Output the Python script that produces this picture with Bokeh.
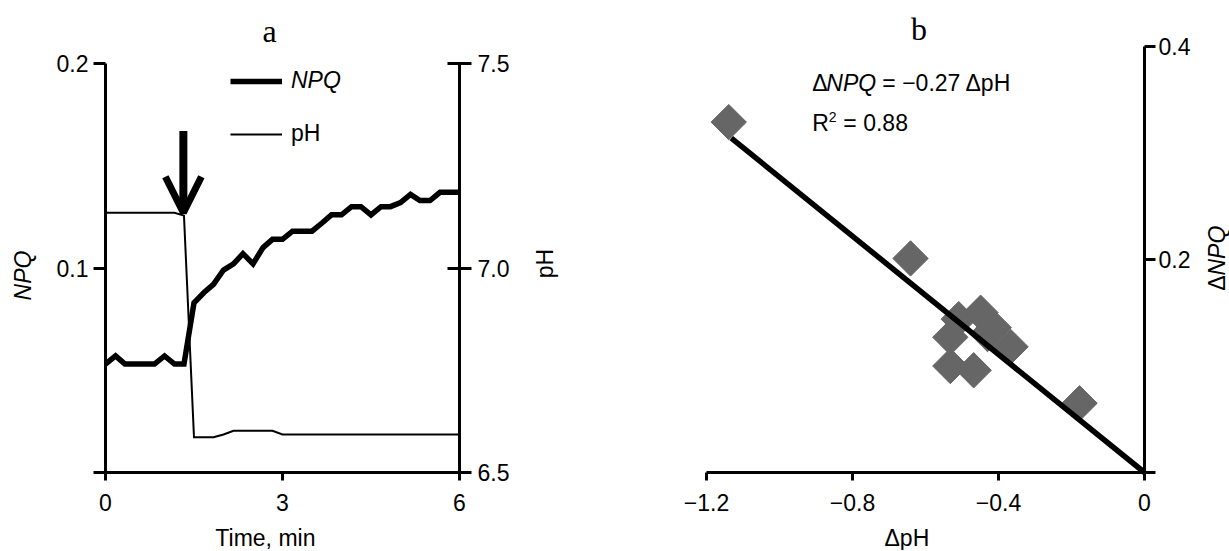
import math
from bokeh.plotting import figure
from bokeh.models import (Range1d, LinearAxis, FixedTicker, Label, Legend,
                          LegendItem, Arrow, OpenHead)
from bokeh.layouts import row
from bokeh.embed import file_html
from bokeh.resources import INLINE

# ---------------- data (panel a) ----------------
time_min = [0.0, 0.17, 0.33, 0.5, 0.67, 0.83, 1.0, 1.17, 1.33, 1.5, 1.67, 1.83,
            2.0, 2.17, 2.33, 2.5, 2.67, 2.83, 3.0, 3.17, 3.33, 3.5, 3.67, 3.83,
            4.0, 4.17, 4.33, 4.5, 4.67, 4.83, 5.0, 5.17, 5.33, 5.5, 5.67, 5.83, 6.0]
npq = [0.053, 0.057, 0.053, 0.053, 0.053, 0.053, 0.057, 0.053, 0.053, 0.083,
       0.088, 0.092, 0.099, 0.102, 0.107, 0.102, 0.110, 0.114, 0.114, 0.118,
       0.118, 0.118, 0.122, 0.126, 0.126, 0.130, 0.130, 0.126, 0.130, 0.130,
       0.132, 0.136, 0.133, 0.133, 0.137, 0.137, 0.137]
ph = [7.135, 7.135, 7.135, 7.135, 7.135, 7.135, 7.135, 7.135, 7.128, 6.586,
      6.586, 6.586, 6.593, 6.602, 6.602, 6.602, 6.602, 6.602, 6.593, 6.593,
      6.593, 6.593, 6.593, 6.593, 6.593, 6.593, 6.593, 6.593, 6.593, 6.593,
      6.593, 6.593, 6.593, 6.593, 6.593, 6.593, 6.593]
addition_time = 1.32
time_ticks = [0, 3, 6]
npq_ticks = [0, 0.1, 0.2]
ph_ticks = [6.5, 7.0, 7.5]

# ---------------- data (panel b) ----------------
d_ph = [-1.139, -0.641, -0.449, -0.509, -0.532, -0.532, -0.413, -0.367,
        -0.468, -0.430, -0.178]
d_npq = [0.329, 0.201, 0.150, 0.144, 0.127, 0.100, 0.136, 0.118,
         0.096, 0.130, 0.065]
fit_x = [-1.132, 0.0]
fit_y = [0.314, 0.0]
dph_ticks = [-1.2, -0.8, -0.4, 0]
dnpq_ticks = [0, 0.2, 0.4]

FONT = "Liberation Sans"
SERIF = "Liberation Serif"
FS = "23px"
H = 550
AXIS_Y = 472  # pixel row of the x axes


def extended_range(lo, hi, px_lo, px_hi, px_min, px_max):
    """Range whose [lo, hi] sits at pixels [px_lo, px_hi] of a frame [px_min, px_max]."""
    s = (hi - lo) / (px_hi - px_lo)
    return lo - (px_lo - px_min) * s, hi + (px_max - px_hi) * s


def style_axis(ax, tin, tout, standoff):
    ax.axis_line_width = 3
    ax.axis_line_color = "black"
    ax.major_tick_line_width = 3
    ax.major_tick_line_color = "black"
    ax.major_tick_in = tin
    ax.major_tick_out = tout
    ax.minor_tick_line_color = None
    ax.major_label_text_font = FONT
    ax.major_label_text_font_size = FS
    ax.major_label_text_color = "black"
    ax.major_label_standoff = standoff


def text_label(fig, x, page_y, text, xo=0, size=FS, font=FONT, style="normal",
               align="left", angle=0.0):
    """Text centred vertically on pixel row page_y (anchored to y=0 of the figure)."""
    fig.add_layout(Label(x=x, y=0, x_offset=xo, y_offset=AXIS_Y - page_y, text=text,
                         text_font=font, text_font_size=size, text_font_style=style,
                         text_align=align, text_baseline="middle", angle=angle,
                         text_color="black"))


def base_fig(width, xr, yr):
    p = figure(width=width, height=H, x_range=Range1d(*xr), y_range=Range1d(*yr),
               output_backend="svg", toolbar_location=None,
               x_axis_location=None, y_axis_location=None,
               min_border=0, min_border_left=0, min_border_right=0,
               min_border_top=0, min_border_bottom=0)
    p.xgrid.visible = False
    p.ygrid.visible = False
    p.outline_line_color = None
    return p


# ================= panel a =================
WA = 600
xr_a = extended_range(0, 6, 105, 459, 0, WA)
yr_a = extended_range(0, 0.2, H - AXIS_Y, H - 63, 0, H)
ph_r = extended_range(6.5, 7.5, H - AXIS_Y, H - 63, 0, H)
pa = base_fig(WA, xr_a, yr_a)
pa.extra_y_ranges = {"ph": Range1d(*ph_r)}

xa = LinearAxis(ticker=FixedTicker(ticks=time_ticks), fixed_location=0, bounds=(0, 6))
style_axis(xa, 0, 8, 13)
pa.add_layout(xa, "below")
ya = LinearAxis(ticker=FixedTicker(ticks=npq_ticks), fixed_location=0, bounds=(0, 0.2))
ya.major_label_overrides = {0: "", 0.1: "0.1", 0.2: "0.2"}
style_axis(ya, 0, 12, 5)
pa.add_layout(ya, "left")
ra = LinearAxis(y_range_name="ph", ticker=FixedTicker(ticks=ph_ticks), fixed_location=6,
                bounds=(6.5, 7.5))
ra.major_label_overrides = {6.5: "6.5", 7.0: "7.0", 7.5: "7.5"}
style_axis(ra, 12, 12, 6)
pa.add_layout(ra, "right")

r_ph = pa.line(time_min, ph, line_width=2, line_color="black", y_range_name="ph",
               line_join="miter")
r_npq = pa.line(time_min, npq, line_width=5.5, line_color="black", line_join="miter")

pa.add_layout(Arrow(end=OpenHead(size=36, line_width=7, line_color="black"),
                    x_start=addition_time, y_start=0.167,
                    x_end=addition_time, y_end=0.127,
                    line_width=8, line_color="black"))

for item, loc, st in [(LegendItem(label="NPQ", renderers=[r_npq]), (230, H - 94), "italic"),
                      (LegendItem(label="pH", renderers=[r_ph]), (230, H - 147), "normal")]:
    lg = Legend(items=[item], location=loc, border_line_color=None,
                background_fill_alpha=0, padding=0, margin=0, glyph_width=52,
                glyph_height=26, label_height=26, label_standoff=9,
                label_text_font=FONT, label_text_font_size=FS,
                label_text_font_style=st, label_text_color="black")
    pa.add_layout(lg)

text_label(pa, 2.78, 30, "a", size="32px", font=SERIF, align="center")
text_label(pa, 2.71, 537, "Time, min", align="center")
text_label(pa, 0, 275, "NPQ", xo=-83, style="italic", align="center",
           angle=math.pi / 2)
text_label(pa, 6, 263, "pH", xo=85, align="center", angle=math.pi / 2)

# ================= panel b =================
WB = 629
xr_b = extended_range(-1.2, 0, 106, 544, 0, WB)
yr_b = extended_range(0, 0.4, H - AXIS_Y, H - 46, 0, H)
pb = base_fig(WB, xr_b, yr_b)

xb = LinearAxis(ticker=FixedTicker(ticks=dph_ticks), fixed_location=0, bounds=(-1.2, 0))
xb.major_label_overrides = {-1.2: "\u22121.2", -0.8: "\u22120.8", -0.4: "\u22120.4", 0: "0"}
style_axis(xb, 0, 8, 13)
pb.add_layout(xb, "below")
yb = LinearAxis(ticker=FixedTicker(ticks=dnpq_ticks), fixed_location=0, bounds=(0, 0.4))
yb.major_label_overrides = {0: "", 0.2: "0.2", 0.4: "0.4"}
style_axis(yb, 0, 11, 3)
pb.add_layout(yb, "right")

pb.scatter(d_ph, d_npq, marker="square", size=25, angle=math.pi / 4,
           fill_color="#666666", line_color="#666666")
pb.line(fit_x, fit_y, line_width=5.5, line_color="black")

text_label(pb, -0.618, 28, "b", size="32px", font=SERIF, align="center")
text_label(pb, -0.651, 537, "\u0394pH", align="center")
text_label(pb, -0.910, 82, "\u0394")
text_label(pb, -0.910, 82, "NPQ", xo=14, style="italic")
text_label(pb, -0.910, 82, "= \u22120.27 \u0394pH", xo=70)
text_label(pb, -0.910, 122.5, "R")
text_label(pb, -0.910, 116, "2", xo=16.5, size="14px")
text_label(pb, -0.910, 122.5, "= 0.88", xo=31)
text_label(pb, 0, 275, "\u0394", xo=72, align="right", angle=math.pi / 2)
text_label(pb, 0, 275, "NPQ", xo=72, style="italic", align="left", angle=math.pi / 2)

layout = row(pa, pb)
open("out.html", "w").write(file_html(layout, INLINE))
